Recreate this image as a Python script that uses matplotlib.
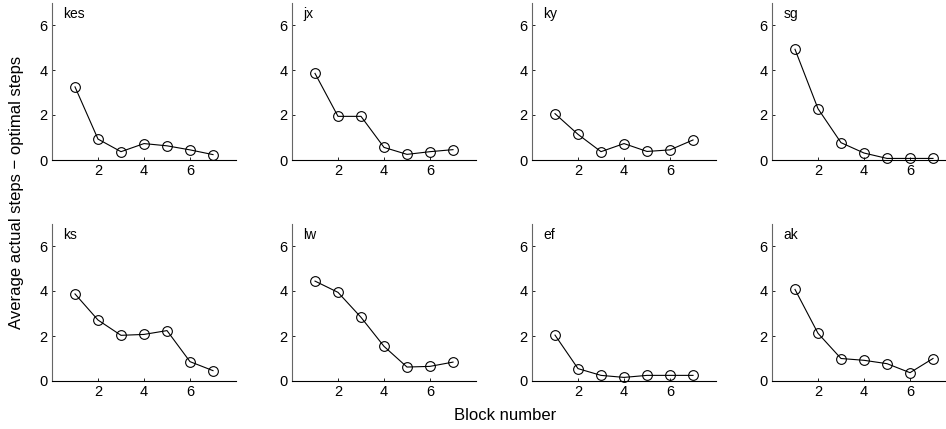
import matplotlib
matplotlib.use('Agg')
import matplotlib.pyplot as plt

# ── Data ─────────────────────────────────────────────────────────────────────

subjects = ['kes', 'jx', 'ky', 'sg', 'ks', 'lw', 'ef', 'ak']
blocks = [1, 2, 3, 4, 5, 6, 7]

kes = [3.25, 0.93, 0.37, 0.73, 0.63, 0.45, 0.24]
jx  = [3.85, 1.94, 1.94, 0.56, 0.25, 0.37, 0.46]
ky  = [2.06, 1.14, 0.37, 0.73, 0.38, 0.45, 0.89]
sg  = [4.92, 2.28, 0.77, 0.31, 0.07, 0.07, 0.07]
ks  = [3.87, 2.71, 2.03, 2.07, 2.24, 0.86, 0.46]
lw  = [4.44, 3.94, 2.83, 1.54, 0.62, 0.65, 0.84]
ef  = [2.04, 0.55, 0.25, 0.16, 0.25, 0.25, 0.25]
ak  = [4.07, 2.12, 1.00, 0.92, 0.77, 0.37, 1.00]

series = [kes, jx, ky, sg, ks, lw, ef, ak]

plt.rcParams['font.family'] = ['Liberation Sans', 'DejaVu Sans']

W, H = 946, 429
fig = plt.figure(figsize=(W / 100, H / 100), dpi=100)

# axes geometry in pixels
lefts = [52, 292, 532, 772]
ax_w = 184
tops = [2.5, 223.5]
ax_h = 157.5

for i, (name, vals) in enumerate(zip(subjects, series)):
    row, col = divmod(i, 4)
    rect = [lefts[col] / W, 1 - (tops[row] + ax_h) / H, ax_w / W, ax_h / H]
    ax = fig.add_axes(rect)
    ax.plot(blocks, vals, color='black', lw=0.8, marker='o', ms=7,
            mfc='none', mec='black', mew=0.8, clip_on=False)
    ax.set_xlim(0, 8)
    ax.set_ylim(0, 7)
    ax.set_xticks([2, 4, 6])
    ax.set_yticks([0, 2, 4, 6])
    ax.spines['top'].set_visible(False)
    ax.spines['right'].set_visible(False)
    ax.spines['left'].set_color('#666666')
    ax.spines['left'].set_linewidth(0.8)
    ax.spines['bottom'].set_linewidth(0.8)
    ax.tick_params(direction='in', length=2.5, width=0.6, labelsize=10.5, pad=3)
    ax.text(0.5, 6.5, name, fontsize=10, ha='left', va='center')

fig.text(505 / W, 1 - 416 / H, 'Block number', fontsize=12,
         ha='center', va='center')
fig.text(17 / W, 1 - 192 / H, 'Average actual steps \u2212 optimal steps',
         fontsize=12, ha='center', va='center', rotation=90)

fig.savefig('out.png', dpi=100)
